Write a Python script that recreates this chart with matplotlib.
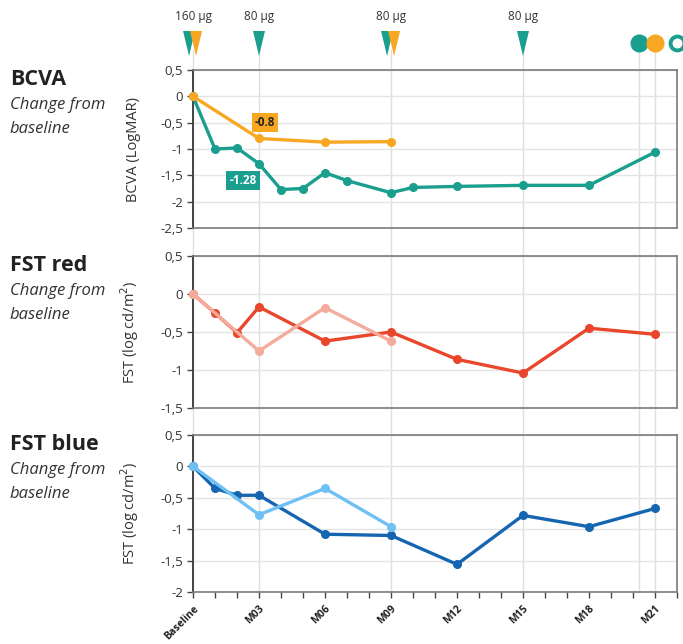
import matplotlib
matplotlib.use('Agg')
import matplotlib.pyplot as plt
from matplotlib.patches import Polygon
from matplotlib.ticker import FuncFormatter, MultipleLocator

plt.rcParams['font.family'] = ['Open Sans', 'DejaVu Sans']

# data (months from baseline, change from baseline)
bcva_teal_x = [0, 1, 2, 3, 4, 5, 6, 7, 9, 10, 12, 15, 18, 21]
bcva_teal_y = [0, -1.0, -0.98, -1.28, -1.77, -1.75, -1.45, -1.6, -1.83, -1.73, -1.71, -1.69, -1.69, -1.06]
bcva_orange_x = [0, 3, 6, 9]
bcva_orange_y = [0, -0.8, -0.87, -0.86]

red_dark_x = [0, 1, 2, 3, 6, 9, 12, 15, 18, 21]
red_dark_y = [0, -0.25, -0.51, -0.17, -0.62, -0.5, -0.86, -1.04, -0.45, -0.53]
red_light_x = [0, 3, 6, 9]
red_light_y = [0, -0.75, -0.18, -0.62]

blue_dark_x = [0, 1, 2, 3, 6, 9, 12, 15, 18, 21]
blue_dark_y = [0, -0.35, -0.46, -0.46, -1.08, -1.1, -1.56, -0.78, -0.96, -0.67]
blue_light_x = [0, 3, 6, 9]
blue_light_y = [0, -0.77, -0.35, -0.96]

tick_months = [0, 3, 6, 9, 12, 15, 18, 21]
tick_labels = ['Baseline', 'M03', 'M06', 'M09', 'M12', 'M15', 'M18', 'M21']

teal_dose_months = [0, 3, 9, 15]
dose_labels = ['160 µg', '80 µg', '80 µg', '80 µg']
orange_dose_months = [0, 9]
event_lines = [0, 3, 9, 15, 20.25, 21]
teal_event, orange_event, open_event = 20.25, 21, 22

TEAL = '#1a9e8e'
ORANGE = '#f8a722'
RED = '#e9462c'
PINK = '#f5ab9b'
BLUE = '#1565b1'
LBLUE = '#6fc1f4'

W, H = 683, 644
fig = plt.figure(figsize=(W / 100, H / 100), dpi=100)
fig.patch.set_facecolor('white')

x0, x1 = 193, 677
px_per_month = (x1 - x0) / 22

# background axes: x in months, y in pixels (for event lines and dose markers)
bg = fig.add_axes([0, 0, 1, 1], zorder=0)
bg.set_xlim(-x0 / px_per_month, (W - x0) / px_per_month)
bg.set_ylim(H, 0)
bg.axis('off')
for m in event_lines:
    bg.plot([m, m], [50, 592], color='#dedede', lw=1, zorder=0)


def tri(m, color, z):
    hw = 6 / px_per_month
    bg.add_patch(Polygon([[m - hw, 31], [m + hw, 31], [m, 56]], closed=True,
                         color=color, zorder=z, lw=0))


paired = set(orange_dose_months)
for m, lab in zip(teal_dose_months, dose_labels):
    tri(m - 0.18 if m in paired else m, TEAL, 2)
    bg.text(m, 16, lab, ha='center', va='center', fontsize=8.5, color='#333333')
for m in orange_dose_months:
    tri(m + 0.14, ORANGE, 3)

bg.plot([teal_event], [43], 'o', ms=12, color=TEAL, zorder=3)
bg.plot([orange_event], [43], 'o', ms=12, color=ORANGE, zorder=3)
bg.plot([open_event], [43], 'o', ms=10, mfc='white', mec=TEAL, mew=2.8, zorder=3)

panels = [
    # top px, bottom px, ylim, title, ylabel
    (70, 228, (-2.5, 0.5), 'BCVA', 'BCVA (LogMAR)'),
    (256, 408, (-1.5, 0.5), 'FST red', 'FST (log cd/m$^2$)'),
    (435, 592, (-2.0, 0.5), 'FST blue', 'FST (log cd/m$^2$)'),
]

fmt = FuncFormatter(lambda v, p: f'{v:g}'.replace('.', ','))
axes = []
for top, bot, ylim, title, ylab in panels:
    ax = fig.add_axes([x0 / W, 1 - bot / H, (x1 - x0) / W, (bot - top) / H], zorder=1)
    ax.set_facecolor('none')
    ax.set_xlim(0, 22)
    ax.set_ylim(*ylim)
    ax.yaxis.set_major_locator(MultipleLocator(0.5))
    ax.yaxis.set_major_formatter(fmt)
    ax.grid(axis='y', color='#e4e4e4', lw=1)
    ax.set_axisbelow(True)
    for s in ['top', 'right', 'bottom']:
        ax.spines[s].set_color('#7a7a7a')
        ax.spines[s].set_linewidth(1.2)
    ax.spines['left'].set_color('#444444')
    ax.spines['left'].set_linewidth(1.4)
    ax.tick_params(axis='y', labelsize=9.5, length=4, width=1, color='#444444', pad=3,
                   labelcolor='#333333')
    ax.tick_params(axis='x', bottom=False, labelbottom=False)
    ax.set_ylabel(ylab, fontsize=10.5, color='#333333')
    ax.yaxis.set_label_coords(-0.108, 0.5)
    fig.text(10 / W, 1 - (top - 1) / H, title, fontsize=15.5, fontweight='bold',
             color='#222222', va='top', ha='left')
    fig.text(10 / W, 1 - (top + 27) / H, 'Change from\nbaseline', fontsize=12,
             style='italic', color='#333333', va='top', ha='left', linespacing=1.65)
    axes.append(ax)

lw, ms = 2.4, 5.5
a1, a2, a3 = axes
a1.plot(bcva_teal_x, bcva_teal_y, '-o', color=TEAL, lw=lw, ms=ms, clip_on=False, zorder=3)
a1.plot(bcva_orange_x, bcva_orange_y, '-o', color=ORANGE, lw=lw, ms=ms, clip_on=False, zorder=4)
a1.text(3.27, -0.49, f'{bcva_orange_y[1]:g}', ha='center', va='center', fontsize=8.5,
        fontweight='bold', color='#222222',
        bbox=dict(boxstyle='square,pad=0.25', fc=ORANGE, ec='none'))
a1.text(2.27, -1.6, f'{bcva_teal_y[3]:g}', ha='center', va='center', fontsize=8.5,
        fontweight='bold', color='white',
        bbox=dict(boxstyle='square,pad=0.25', fc=TEAL, ec='none'))

a2.plot(red_dark_x, red_dark_y, '-o', color=RED, lw=lw, ms=ms, clip_on=False, zorder=3)
a2.plot(red_light_x, red_light_y, '-o', color=PINK, lw=lw, ms=ms, clip_on=False, zorder=4)

a3.plot(blue_dark_x, blue_dark_y, '-o', color=BLUE, lw=lw, ms=ms, clip_on=False, zorder=3)
a3.plot(blue_light_x, blue_light_y, '-o', color=LBLUE, lw=lw, ms=ms, clip_on=False, zorder=4)

a3.set_xticks(tick_months)
a3.set_xticklabels(tick_labels, rotation=45, ha='right', rotation_mode='anchor',
                   fontsize=7.5, fontweight='bold', color='#222222')
a3.xaxis.set_minor_locator(MultipleLocator(1))
a3.tick_params(axis='x', which='both', bottom=True, length=4,
               width=1, color='#444444', pad=4)
a3.tick_params(axis='x', which='major', labelbottom=True)

fig.savefig('out.png', dpi=100)
